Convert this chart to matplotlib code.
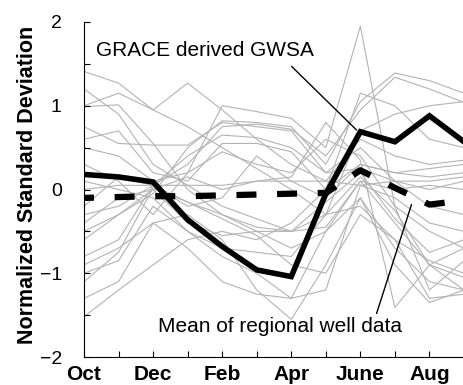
import matplotlib
matplotlib.use("Agg")
import matplotlib.pyplot as plt
import numpy as np

plt.rcParams['font.family'] = ['Liberation Sans', 'DejaVu Sans']

months = ['Oct', 'Nov', 'Dec', 'Jan', 'Feb', 'Mar', 'Apr', 'May', 'June', 'Jul', 'Aug', 'Sep']
tick_labels = ['Oct', 'Dec', 'Feb', 'Apr', 'June', 'Aug']

grace = [0.18, 0.15, 0.09, -0.36, -0.68, -0.96, -1.04, -0.05, 0.69, 0.57, 0.88, 0.57]
well_mean = [-0.10, -0.09, -0.08, -0.08, -0.07, -0.06, -0.05, -0.04, 0.23, 0.02, -0.18, -0.13]

w01 = [1.41, 1.27, 0.95, 0.75, 0.50, 0.25, 0.00, -0.30, -0.20, -0.60, -0.85, -1.00]
w02 = [0.99, 1.01, 0.55, 0.00, -0.30, -0.50, -0.70, -0.50, 0.10, -0.40, -0.90, -1.20]
w03 = [1.00, 1.15, 0.95, 1.27, 0.95, 0.60, 0.30, 0.10, 0.60, 0.40, 0.30, 0.35]
w04 = [0.75, 0.55, 0.53, 0.53, 0.80, 0.75, 0.70, 0.20, 0.50, 0.10, -0.20, -0.30]
w05 = [0.30, 0.10, -0.30, 0.20, 1.00, 0.93, 0.85, 0.50, 1.95, -0.20, -0.50, -0.70]
w06 = [-0.50, -0.30, -0.05, 0.50, 0.82, 0.80, 0.75, 0.30, 1.05, 1.39, 1.30, 1.15]
w07 = [-0.80, -0.60, 0.05, 0.30, 0.75, 0.78, 0.72, 0.40, 0.95, 1.34, 1.20, 1.04]
w08 = [-1.52, -1.20, -0.90, -0.60, -0.50, -0.60, -0.40, 0.00, 0.30, 0.20, 0.15, 0.20]
w09 = [-1.30, -1.10, -0.40, -0.30, -0.60, -1.20, -1.55, -0.90, -0.10, -0.70, -1.10, -1.20]
w10 = [-1.00, -0.85, -0.20, -0.50, -0.80, -1.00, -1.30, -1.20, 0.05, -0.10, -0.40, -0.50]
w11 = [-0.30, -0.20, 0.05, -0.20, -0.10, 0.40, 0.10, -0.10, 0.30, 0.20, 0.25, 0.30]
w12 = [0.10, 0.00, -0.10, -0.50, -0.70, -0.75, -0.80, -0.30, 0.15, -0.25, -0.90, -1.05]
w13 = [-0.20, 0.15, 0.05, 0.40, 0.65, 0.62, 0.50, 0.20, 0.25, 0.10, 0.00, 0.10]
w14 = [-0.60, -0.30, 0.00, -0.40, -0.55, -0.50, -0.50, -0.45, 0.10, 0.00, 0.05, 0.00]
w15 = [0.20, 0.15, 0.05, -0.15, -0.30, -0.45, -0.50, -0.30, 0.70, 0.90, 1.00, 1.05]
w16 = [0.50, 0.40, 0.10, 0.20, 0.45, 0.30, 0.20, 0.60, 0.40, -0.20, -1.20, -0.85]
w17 = [-0.90, -0.70, -0.40, -0.70, -1.10, -1.25, -1.30, -0.50, -0.10, -0.90, -1.35, -1.20]
w18 = [1.20, 0.90, 0.30, 0.05, -0.20, -0.35, -0.50, -0.15, 0.20, -0.35, -0.75, -0.60]
w19 = [-0.40, -0.10, 0.00, 0.15, 0.00, 0.10, 0.15, 0.80, 0.35, -1.41, -0.90, -0.70]
w20 = [0.00, 0.05, 0.05, 0.05, 0.05, 0.10, 0.10, 0.10, 0.05, 0.10, 0.10, 0.15]
w21 = [-1.10, -0.75, 0.02, -0.15, -0.35, -0.55, -0.90, -1.00, -0.30, -0.60, -1.30, -1.25]
w22 = [0.60, 0.70, 0.20, 0.10, 0.55, 0.55, 0.45, 0.00, 1.15, 1.00, 0.60, 0.50]
wells = [w01, w02, w03, w04, w05, w06, w07, w08, w09, w10, w11,
         w12, w13, w14, w15, w16, w17, w18, w19, w20, w21, w22]

x = np.arange(len(months))

fig = plt.figure(figsize=(4.64, 3.85), dpi=100)
ax = fig.add_axes([84/464, 28/385, 380/464, 335/385])

for w in wells:
    ax.plot(x, w, color='#b3b3b3', lw=0.8, zorder=1)

ax.plot(x, grace, color='black', lw=4.0, zorder=3, solid_joinstyle='miter')
ax.plot(x, well_mean, color='black', lw=4.5, linestyle=(1.6, (3.2, 3.3)), zorder=3)

ax.set_xlim(0, 11)
ax.set_ylim(-2, 2)
ax.set_xticks(x)
ax.set_xticklabels([m if m in tick_labels else '' for m in months],
                   fontsize=15, fontweight='bold')
yt = np.arange(-2, 2.01, 0.5)
ax.set_yticks(yt)
ax.set_yticklabels([('\u2212%d' % abs(v) if v < 0 else '%d' % v) if float(v).is_integer() else '' for v in yt],
                   fontsize=14)
ax.tick_params(direction='in', length=4, width=0.8)
ax.tick_params(axis='y', pad=16)
ax.tick_params(axis='x', pad=6)
ax.spines['top'].set_visible(False)
ax.spines['right'].set_visible(False)
ax.set_ylabel('Normalized Standard Deviation', fontsize=15.5, fontweight='bold', va='center')
ax.yaxis.set_label_coords((28 - 84) / 380, (357 - 185) / 335)

ax.text(0.36, 1.66, 'GRACE derived GWSA', fontsize=15, va='center', ha='left', zorder=5)
ax.annotate('', xy=(7.89, 0.71), xytext=(6.01, 1.47),
            arrowprops=dict(arrowstyle='-', color='black', lw=1, shrinkA=0, shrinkB=0), zorder=5)
ax.text(5.67, -1.64, 'Mean of regional well data', fontsize=15, va='center', ha='center', zorder=5)
ax.annotate('', xy=(9.48, -0.18), xytext=(8.47, -1.48),
            arrowprops=dict(arrowstyle='-', color='black', lw=1, shrinkA=0, shrinkB=0), zorder=5)

fig.savefig('out.png', dpi=100)
